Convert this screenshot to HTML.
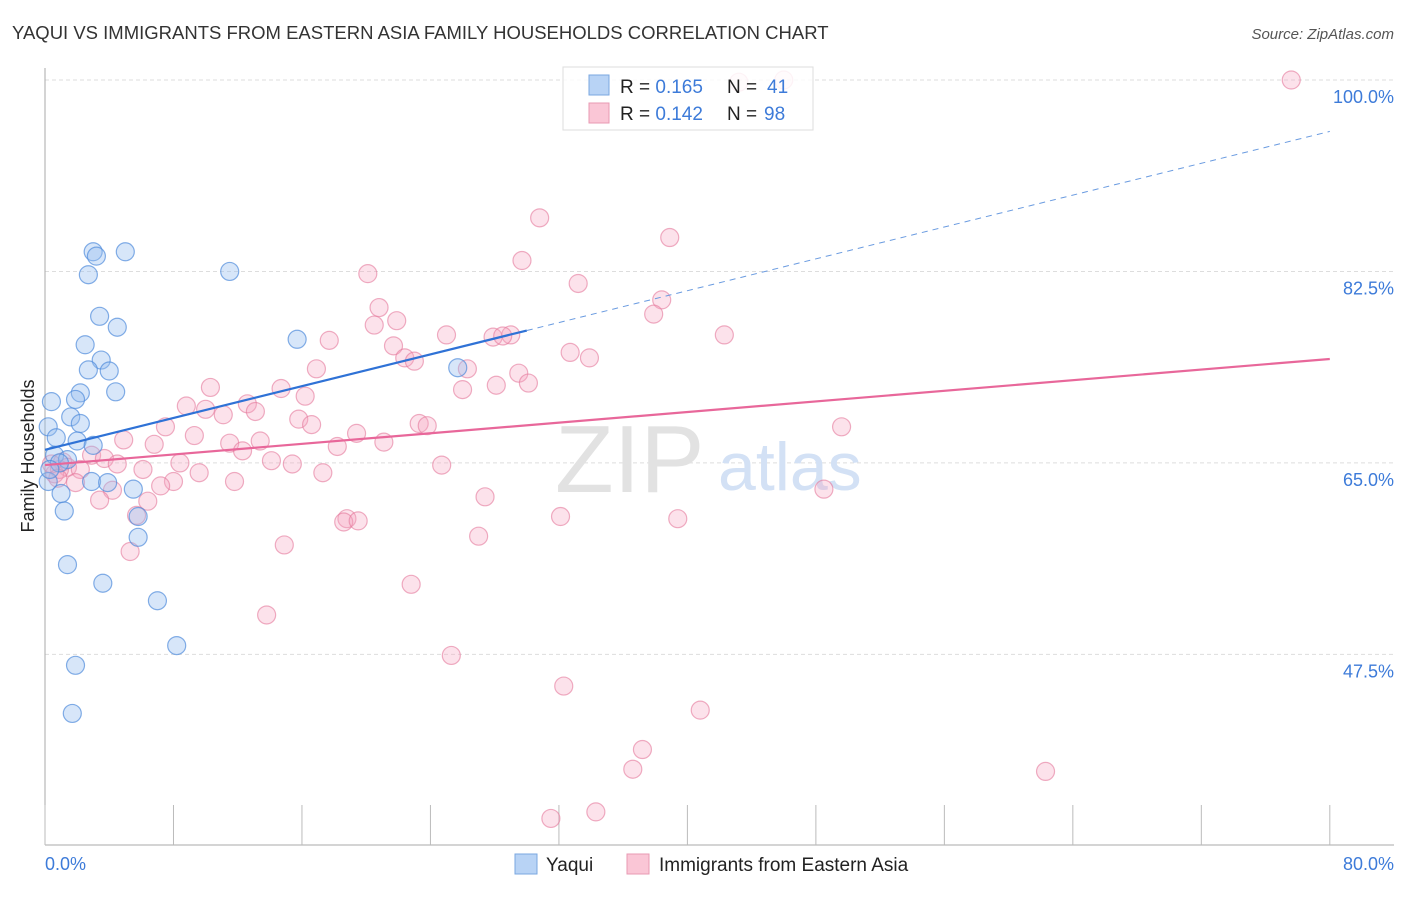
<!DOCTYPE html>
<html><head><meta charset="utf-8"><style>
body{margin:0;background:#fff;font-family:"Liberation Sans",sans-serif;}
svg text{font-family:"Liberation Sans",sans-serif;}
</style></head><body>
<svg width="1406" height="892" viewBox="0 0 1406 892">
<text x="12" y="39" font-size="18.5" fill="#333">YAQUI VS IMMIGRANTS FROM EASTERN ASIA FAMILY HOUSEHOLDS CORRELATION CHART</text>
<text x="1394" y="39" font-size="15" fill="#555" font-style="italic" text-anchor="end">Source: ZipAtlas.com</text>
<text x="34" y="456" font-size="18" fill="#222" text-anchor="middle" transform="rotate(-90 34 456)">Family Households</text>
<g id="grid"></g>
<g id="axes"></g>
<text x="555" y="492" font-size="96" fill="#e2e2e2" font-family="Liberation Serif">ZIP</text>
<text x="718" y="490" font-size="68" fill="#d3e1f5">atlas</text>
<g id="pink"></g>
<g id="blue"></g>
<g id="lines"></g>
<g>
<rect x="563" y="67" width="250" height="63" fill="rgba(255,255,255,0.85)" stroke="#ddd"/>
<rect x="589" y="75" width="20" height="20" fill="#b8d3f5" stroke="#7aa7e0"/>
<rect x="589" y="103" width="20" height="20" fill="#fac6d6" stroke="#e89ab3"/>
<text x="620" y="93" font-size="19" fill="#222">R = <tspan fill="#3d7bd9">0.165</tspan></text>
<text x="727" y="93" font-size="19" fill="#222">N =</text>
<text x="767" y="93" font-size="19" fill="#3d7bd9">41</text>
<text x="620" y="120" font-size="19" fill="#222">R = <tspan fill="#3d7bd9">0.142</tspan></text>
<text x="727" y="120" font-size="19" fill="#222">N =</text>
<text x="764" y="120" font-size="19" fill="#3d7bd9">98</text>
</g>
<g>
<rect x="515" y="854" width="22" height="20" fill="#b8d3f5" stroke="#7aa7e0"/>
<text x="546" y="871" font-size="19" fill="#222">Yaqui</text>
<rect x="627" y="854" width="22" height="20" fill="#fac6d6" stroke="#e89ab3"/>
<text x="659" y="871" font-size="19" fill="#222">Immigrants from Eastern Asia</text>
</g>
<text x="45" y="870" font-size="18" fill="#3d7bd9">0.0%</text>
<text x="1394" y="870" font-size="18" fill="#3d7bd9" text-anchor="end">80.0%</text>
</svg>
<script>
const yTicks=[100,82.5,65,47.5];
const yTickLabels=["100.0%","82.5%","65.0%","47.5%"];
const xTicks=[0,8,16,24,32,40,48,56,64,72,80];
const blueX=[3.0,3.2,5.0,2.7,11.5,3.4,4.5,2.5,3.5,4.0,2.7,15.7,25.7,2.2,4.4,0.4,1.9,1.6,2.2,0.2,0.7,2.0,3.0,0.6,1.4,0.9,0.2,2.9,3.9,5.5,1.0,1.2,5.8,5.8,1.4,3.6,7.0,8.2,1.9,1.7,0.3];
const blueY=[84.3,83.9,84.3,82.2,82.5,78.4,77.4,75.8,74.4,73.4,73.5,76.3,73.7,71.4,71.5,70.6,70.8,69.2,68.6,68.3,67.3,67.0,66.6,65.7,65.3,65.0,63.3,63.3,63.2,62.6,62.2,60.6,60.1,58.2,55.7,54.0,52.4,48.3,46.5,42.1,64.4];
const pinkX=[77.6,43.2,46.0,30.8,38.9,29.7,20.1,33.2,38.4,20.8,37.9,21.9,20.5,17.7,25.0,27.9,29.0,42.3,28.5,21.7,32.7,33.9,22.4,23.0,16.9,26.3,29.5,10.3,28.1,14.7,30.1,26.0,16.2,8.8,10.0,12.6,11.1,13.1,15.8,23.3,23.8,16.6,7.5,49.6,19.4,4.9,6.8,13.4,9.3,11.5,21.1,18.2,12.3,2.9,3.7,4.5,14.1,15.4,8.4,24.7,1.1,1.4,2.2,6.1,9.6,17.3,0.6,8.0,11.8,1.9,7.2,4.2,3.4,6.4,27.4,5.7,32.1,18.8,18.6,19.5,39.4,48.5,27.0,14.9,5.3,22.8,13.8,25.3,32.3,40.8,37.2,36.6,62.3,31.5,34.3,0.9,0.4,0.8];
const pinkY=[100,99.8,100,87.4,85.6,83.5,82.3,81.4,79.9,79.2,78.6,78.0,77.6,76.2,76.7,76.5,76.7,76.7,76.6,75.7,75.1,74.6,74.6,74.3,73.6,73.6,73.2,71.9,72.1,71.8,72.3,71.7,71.1,70.2,69.9,70.4,69.4,69.7,69.0,68.6,68.4,68.5,68.3,68.3,67.7,67.1,66.7,67.0,67.5,66.8,66.9,66.5,66.1,65.7,65.4,64.9,65.2,64.9,65.0,64.8,65.1,64.6,64.4,64.4,64.1,64.1,64.0,63.3,63.3,63.2,62.9,62.5,61.6,61.5,61.9,60.2,60.1,59.9,59.6,59.7,59.9,62.6,58.3,57.5,56.9,53.9,51.1,47.4,44.6,42.4,38.8,37.0,36.8,32.5,33.1,64.4,64.9,63.6];
const blueTrend=[66.2,77.1,95.3]; // at x=0, 30, 80
const pinkTrend=[64.8,74.5]; // at x=0, 80
const NS="http://www.w3.org/2000/svg";
const xs=v=>45+v*16.06;
const ys=v=>80+(100-v)*10.94;
function mk(parent,tag,attrs){const e=document.createElementNS(NS,tag);for(const k in attrs)e.setAttribute(k,attrs[k]);document.getElementById(parent).appendChild(e);return e;}
yTicks.forEach((t,i)=>{
 const l=mk('grid','line',{x1:45,x2:1394,y1:ys(t),y2:ys(t),stroke:'#ddd','stroke-dasharray':'4,3'});
 
 
 const tx=mk('grid','text',{x:1394,y:ys(t)+23,'font-size':18,fill:'#3d7bd9','text-anchor':'end'});
 tx.textContent=yTickLabels[i];
 
 
});
let a=mk('axes','line',{x1:45,x2:45,y1:68,y2:845,stroke:'#aaa'});


a=mk('axes','line',{x1:45,x2:1394,y1:845,y2:845,stroke:'#aaa'});


xTicks.forEach(t=>{
 const l=mk('axes','line',{x1:xs(t),x2:xs(t),y1:805,y2:845,stroke:'#bbb'});
 
 
});
pinkX.forEach((x,i)=>{
 const c=mk('pink','circle',{cx:xs(x),cy:ys(pinkY[i]),r:9,fill:'rgba(245,165,192,0.32)',stroke:'rgba(228,120,155,0.6)','stroke-width':1.2});
 
 
});
blueX.forEach((x,i)=>{
 const c=mk('blue','circle',{cx:xs(x),cy:ys(blueY[i]),r:9,fill:'rgba(150,190,240,0.38)',stroke:'rgba(80,140,220,0.7)','stroke-width':1.2});
 
 
});
let ln=mk('lines','line',{x1:xs(0),y1:ys(pinkTrend[0]),x2:xs(80),y2:ys(pinkTrend[1]),stroke:'#e8679a','stroke-width':2.2});


ln=mk('lines','line',{x1:xs(0),y1:ys(blueTrend[0]),x2:xs(30),y2:ys(blueTrend[1]),stroke:'#2f72d6','stroke-width':2.2});


ln=mk('lines','line',{x1:xs(30),y1:ys(blueTrend[1]),x2:xs(80),y2:ys(blueTrend[2]),stroke:'#6a9be0','stroke-width':1,'stroke-dasharray':'6,5'});


</script>
</body></html>
